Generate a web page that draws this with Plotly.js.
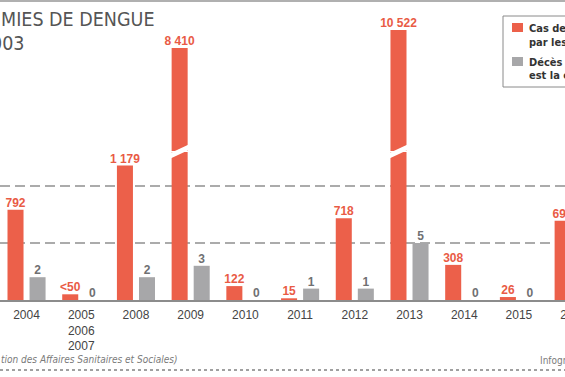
<!DOCTYPE html>
<html>
<head>
<meta charset="utf-8">
<script src="https://cdn.plot.ly/plotly-3.0.1.min.js"></script>
<style>
html,body{margin:0;padding:0;overflow:hidden;background:#fff;}
#chart{width:601px;height:377px;}
</style>
</head>
<body>
<div id="chart"></div>
<script>
// ---- data ----
const categories = ['2004','2005<br>2006<br>2007','2008','2009','2010','2011','2012','2013','2014','2015','2016'];
const cases = [792, 50, 1179, 8410, 122, 15, 718, 10522, 308, 26, 695];
const caseLabels = ['792','&lt;50','1 179','8 410','122','15','718','10 522','308','26','695'];
const deaths = [2, 0, 2, 3, 0, 1, 1, 5, 0, 0, 0];
const deathLabels = deaths.map(String);

// ---- style / geometry ----
const RED = '#ec604a', GREY = '#a7a7a9';
const RED_TXT = '#e95b45', GREY_TXT = '#707072';
const NARROW = '"Liberation Sans Narrow", "DejaVu Sans Condensed", "Arial Narrow", sans-serif';
const SANS = '"Liberation Sans", Arial, sans-serif';
const W = 601, PH = 300;              // plot width / plot height in px
const xp = px => px / W;               // px -> paper x
const yp = px => (PH - px) / PH;       // px -> paper y
const barW = 0.293, redOff = -0.348, greyOff = 0.055;
const lowerMax = 1298;                 // top of lower (unbroken) panel
const idx = categories.map((_, i) => i);

const traces = [];
traces.push({type:'bar', x: idx, y: cases, width: barW, offset: redOff,
  marker:{color:RED}, xaxis:'x', yaxis:'y', hoverinfo:'skip'});
traces.push({type:'bar', x: idx, y: cases, base: 1, width: barW, offset: redOff,
  marker:{color:RED}, xaxis:'x', yaxis:'y2', hoverinfo:'skip'});
traces.push({type:'bar', x: idx, y: deaths, width: barW, offset: greyOff,
  marker:{color:GREY}, xaxis:'x', yaxis:'y3', hoverinfo:'skip'});

const lowI = idx.filter(i => cases[i] <= lowerMax);
const highI = idx.filter(i => cases[i] > lowerMax);
const lblFont = {family: SANS, size: 12, color: RED_TXT, weight: 'bold'};
traces.push({type:'scatter', mode:'text', x: lowI.map(i => i + redOff + barW/2),
  y: lowI.map(i => cases[i]), text: lowI.map(i => '<b>' + caseLabels[i] + '</b>'),
  textposition:'top center', textfont: lblFont, cliponaxis:false, xaxis:'x', yaxis:'y', hoverinfo:'skip'});
traces.push({type:'scatter', mode:'text', x: highI.map(i => i + redOff + barW/2),
  y: highI.map(i => cases[i]), text: highI.map(i => '<b>' + caseLabels[i] + '</b>'),
  textposition:'top center', textfont: lblFont, cliponaxis:false, xaxis:'x', yaxis:'y2', hoverinfo:'skip'});
traces.push({type:'scatter', mode:'text', x: idx.map(i => i + greyOff + barW/2),
  y: deaths, text: deathLabels.map(t => '<b>' + t + '</b>'),
  textposition:'top center', textfont: {family: SANS, size: 12, color: GREY_TXT, weight:'bold'},
  cliponaxis:false, xaxis:'x', yaxis:'y3', hoverinfo:'skip'});

const shapes = [
  {type:'line', xref:'paper', yref:'paper', x0:0, x1:1, y0:yp(1), y1:yp(1), line:{color:'#b0b0b0', width:2}},
  {type:'line', xref:'paper', yref:'paper', x0:0, x1:1, y0:yp(370), y1:yp(370), line:{color:'#a0a0a0', width:2, dash:'dot'}},
  {type:'rect', xref:'paper', yref:'paper', x0:xp(503), x1:xp(700), y0:yp(87), y1:yp(16), line:{color:'#8a8a8a', width:1}, fillcolor:'rgba(0,0,0,0)'},
  {type:'rect', xref:'paper', yref:'paper', x0:xp(512), x1:xp(523), y0:yp(32), y1:yp(23), line:{width:0}, fillcolor:RED},
  {type:'rect', xref:'paper', yref:'paper', x0:xp(512), x1:xp(523), y0:yp(66), y1:yp(57), line:{width:0}, fillcolor:GREY},
];
// axis-break marks on the bars that exceed the lower panel
highI.forEach(i => {
  shapes.push({type:'line', xref:'x', yref:'paper', x0: i + redOff - 0.03, x1: i + redOff + barW + 0.03,
    y0: yp(156), y1: yp(147), line:{color:'#ffffff', width:5}});
});

const ann = (text, x, y, font, xanchor) => ({text, x: xp(x), y: yp(y), xref:'paper', yref:'paper',
  showarrow:false, xanchor: xanchor || 'left', yanchor:'middle', font});
const titleFont = {family: NARROW, size: 19.5, color:'#555555'};
const legFont = {family: NARROW, size: 11, color:'#333333', weight:'bold'};
const annotations = [
  ann('MIES DE DENGUE', -1, 20, titleFont),
  ann('003', 26, 44, titleFont, 'right'),
  ann('<b>Cas de</b>', 527, 28, legFont),
  ann('<b>par les</b>', 527, 42, legFont),
  ann('<b>Décès d</b>', 527, 62, legFont),
  ann('<b>est la c</b>', 527, 76, legFont),
  ann('<i>tion des Affaires Sanitaires et Sociales)</i>', -1, 359, {family: NARROW, size: 10, color:'#7a7a7a'}),
  ann('Infogra', 538, 360, {family: NARROW, size: 10, color:'#7a7a7a'}),
];

const layout = {
  width: W, height: 377,
  margin: {l:0, r:0, t:0, b:77, pad:0},
  paper_bgcolor:'#ffffff', plot_bgcolor:'rgba(0,0,0,0)',
  showlegend:false, barmode:'overlay',
  xaxis: {type:'linear', range:[-0.485, 10.5], tickvals: idx, ticktext: categories,
    showgrid:false, zeroline:false, showline:true, linecolor:'#8c8c8c', linewidth:1.5,
    ticks:'', ticklabelstandoff: 3, tickfont:{family: SANS, size:12, color:'#444444'}},
  yaxis: {domain:[0, yp(152)], range:[0, lowerMax], tickvals:[500, 1000], showticklabels:false,
    showgrid:true, gridcolor:'#ababab', gridwidth:1.5, griddash:'10px,5px', zeroline:false, ticks:''},
  yaxis2: {domain:[yp(151), 1], type:'log', range:[3.368, 4.184], visible:false},
  yaxis3: {overlaying:'y', range:[0, 12.98], visible:false},
  shapes, annotations,
};

Plotly.newPlot('chart', traces, layout, {staticPlot:true, displayModeBar:false});
</script>
</body>
</html>
